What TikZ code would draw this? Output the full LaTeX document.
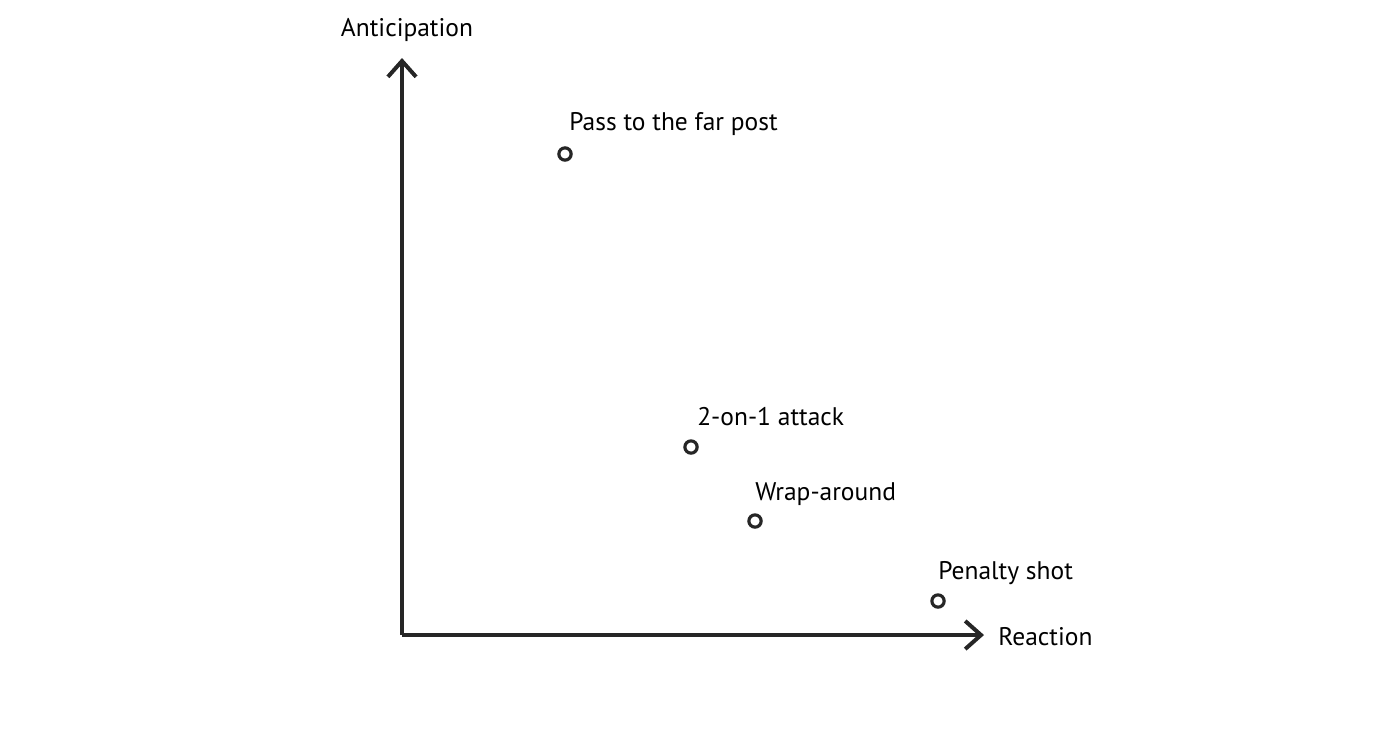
\documentclass[tikz,border=0pt]{standalone}
\usepackage{fontspec}
\setmainfont{PT Sans}
\usetikzlibrary{arrows.meta}
\tikzset{
  axis/.style={line width=4pt*0.567, -{Straight Barb[length=9pt,width=16pt]}, color=black!85},
  spot/.style={circle, draw=black!85, line width=1.8pt, minimum size=7pt, inner sep=0pt},
  lbl/.style={anchor=west, inner sep=0pt, font=\fontsize{14.5}{17}\selectfont}
}
\begin{document}
\begin{tikzpicture}[x=0.02cm, y=-0.02cm]
    \useasboundingbox (0,0) rectangle (1385,735);
    % Axes
    \coordinate (o) at (402,635);
    \coordinate (ytop) at (402,58);
    \coordinate (xend) at (984,635);
    \draw[axis] (o) -- (ytop);
    \draw[axis] (o) -- (xend);
    \node[lbl, anchor=center] (ant) at (407,30) {Anticipation};
    \node[lbl] (rea) at (998,637) {Reaction};
    % Points
    \node[spot] (far) at (565,154) {};
    \node[spot] (two) at (691,447) {};
    \node[spot] (wrap) at (755,521) {};
    \node[spot] (pen) at (938,601) {};
    \node[lbl] at (569,124) {Pass to the far post};
    \node[lbl] at (697,417) {2-on-1 attack};
    \node[lbl] at (755,494) {Wrap-around};
    \node[lbl] at (938,573) {Penalty shot};
\end{tikzpicture}
\end{document}
